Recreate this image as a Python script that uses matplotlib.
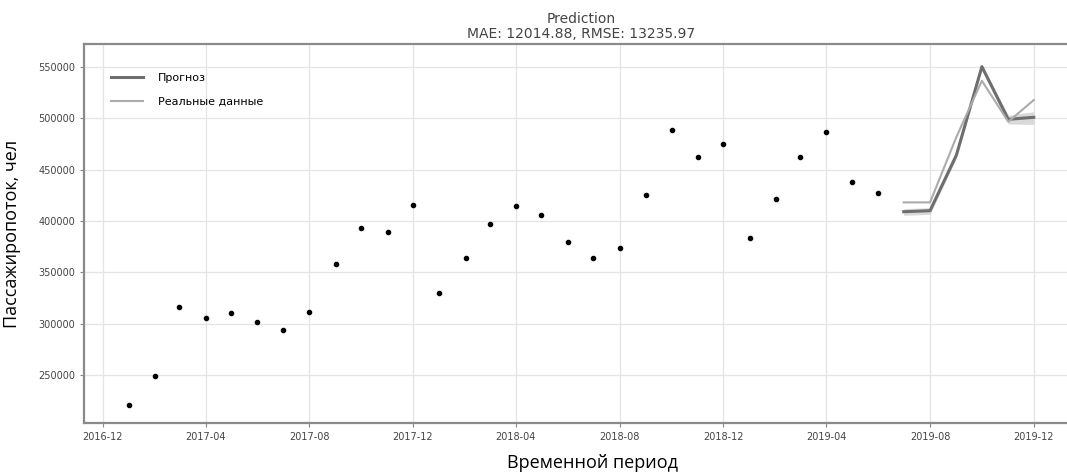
import numpy as np
import pandas as pd
import matplotlib
matplotlib.use("Agg")
import matplotlib.pyplot as plt
import matplotlib.dates as mdates

# monthly passenger flow (history) and forecast vs real data
hist_dates = pd.date_range("2017-01-01", "2019-06-01", freq="MS")
hist_values = [220600, 248800, 316400, 305100, 309900, 301200, 293400, 311500,
               358300, 393400, 389500, 415500, 330000, 364100, 397300, 414500,
               405700, 379400, 364100, 373900, 425200, 488300, 462000, 474700,
               383300, 421300, 462000, 486400, 437900, 427200]

fc_dates = pd.date_range("2019-07-01", "2019-12-01", freq="MS")
forecast = [409000, 410000, 464200, 550300, 499000, 501000]
forecast_lower = [405500, 406500, 461200, 547800, 494500, 494000]
forecast_upper = [412000, 413000, 467200, 552800, 503000, 506500]
real = [418100, 418100, 481800, 536600, 496700, 517800]

title = "Prediction\nMAE: 12014.88, RMSE: 13235.97"

fig = plt.figure(figsize=(10.67, 4.72), dpi=100)
ax = fig.add_axes([0.0787, 0.1038, 0.9316, 0.803])

ax.scatter(hist_dates, hist_values, s=9, color="black", zorder=3)
ax.fill_between(fc_dates, forecast_lower, forecast_upper, color="#d0d0d0", alpha=0.8, lw=0)
ax.plot(fc_dates, forecast, color="#6e6e6e", lw=2.2, label="Прогноз")
ax.plot(fc_dates, real, color="#ababab", lw=1.5, label="Реальные данные")

ax.set_xlim(pd.Timestamp("2016-11-09"), pd.Timestamp("2020-01-22"))
ax.set_ylim(203200, 572400)
ax.xaxis.set_major_locator(mdates.MonthLocator(bymonth=[4, 8, 12]))
ax.xaxis.set_major_formatter(mdates.DateFormatter("%Y-%m"))
ax.set_yticks([250000, 300000, 350000, 400000, 450000, 500000, 550000])
ax.yaxis.set_major_formatter(matplotlib.ticker.FormatStrFormatter("%d"))

ax.grid(True, color="#e4e4e4", lw=0.9)
ax.set_axisbelow(True)
for s in ax.spines.values():
    s.set_color("#8a8a8a")
    s.set_linewidth(1.6)
ax.tick_params(labelsize=7, colors="#8a8a8a", labelcolor="#444444", length=3)

ax.set_title(title, fontsize=10, color="#444444", pad=4, linespacing=1.1)
ax.set_xlabel("Временной период", fontfamily="Open Sans", fontsize=13)
ax.xaxis.label.set_va("baseline")
ax.xaxis.set_label_coords(0.512, -0.119)
ax.set_ylabel("Пассажиропоток, чел", fontfamily="Open Sans", fontsize=13, labelpad=12)

leg = ax.legend(loc="upper left", frameon=False, fontsize=8, handlelength=2.9,
                handletextpad=1.3, labelspacing=1.25, borderaxespad=0,
                bbox_to_anchor=(0.0228, 0.935))

fig.savefig("out.png", dpi=100)
